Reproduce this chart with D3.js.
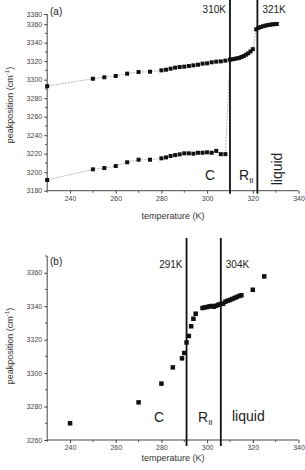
<!DOCTYPE html>
<html>
<head>
<meta charset="utf-8">
<script src="https://cdn.jsdelivr.net/npm/d3@7"></script>
<style>
  body { margin: 0; background: #fff; }
  svg { display: block; font-family: Arial, "Liberation Sans", sans-serif; }
</style>
</head>
<body>
<svg id="chart" width="305" height="470"></svg>
<script>
// panel (a): two peak series vs temperature
var tempsUpperA = [230, 250, 255, 260, 265, 270, 275, 280, 282, 284, 286, 288, 290, 292, 294, 296, 298, 300, 302, 304, 306, 308, 310,
  311, 312, 313, 314, 315, 316, 317, 318, 319, 320, 321.5, 322.5, 323.5, 324.5, 325.5, 326.5, 327.5, 328.5, 329.5, 330.5];
var peaksUpperA = [3293, 3301, 3302.6, 3304, 3306.5, 3308.3, 3308.6, 3310.1, 3310.8, 3311.9, 3313, 3313.7, 3314.1, 3314.8, 3315.5, 3316.2, 3317.3, 3317.7, 3318.8, 3319.5, 3319.8, 3320.6, 3321.7,
  3322, 3322.5, 3323, 3323.5, 3324.5, 3325.5, 3327, 3328.5, 3330.5, 3333, 3354.5, 3356, 3357, 3357.8, 3358.4, 3359, 3359.4, 3359.8, 3360, 3360.2];
var tempsLowerA = [230, 250, 255, 260, 265, 270, 275, 280, 282, 284, 286, 288, 290, 292, 294, 296, 298, 300, 302, 304, 306, 308];
var peaksLowerA = [3191.6, 3203.1, 3204.5, 3206.7, 3210.7, 3213.5, 3213.5, 3215, 3216, 3217.5, 3218.5, 3219.3, 3220.4, 3220.4, 3220, 3221, 3221, 3221.5, 3221, 3223, 3219.5, 3219.5];
var transA = [310, 322];
var transLabelsA = ['310K', '321K'];
var yTicksA = [3180, 3200, 3220, 3240, 3260, 3280, 3300, 3320, 3340, 3360, 3371];
var yTickLabelsA = ['3180', '3200', '3220', '3240', '3260', '3280', '3300', '3320', '3340', '3360', '3380'];

// panel (b)
var tempsB = [240, 270, 280, 285, 289, 290, 291, 292, 293, 294, 295,
  298, 299, 300, 301, 302, 303, 304, 305, 306, 307, 308, 309, 310, 311, 312, 313, 314, 315, 320, 325];
var peaksB = [3270, 3282.5, 3293.7, 3303.4, 3308.8, 3312, 3318.3, 3322.2, 3328, 3332.5, 3335.5,
  3338.9, 3339.3, 3339.5, 3339.9, 3340.1, 3339.7, 3340.3, 3340.9, 3341.3, 3341.5, 3342.7, 3343.3, 3343.7, 3344.3, 3344.9, 3345.5, 3346.1, 3346.5, 3349.8, 3357.8];
var transB = [291, 306];
var transLabelsB = ['291K', '304K'];
var yTicksB = [3260, 3280, 3300, 3320, 3340, 3360];

var xTicks = [240, 260, 280, 300, 320, 340];
var xMinor = [230, 250, 270, 290, 310, 330];

var svg = d3.select('#chart');

function drawPanel(p) {
  var g = svg.append('g');
  var x = d3.scaleLinear().domain([230, 340]).range([47.2, 298.5]);
  var y = d3.scaleLinear().domain(p.yDomain).range(p.yRange);

  // minor ticks
  g.selectAll('.xminor').data(xMinor).enter().append('line')
    .attr('x1', x).attr('x2', x)
    .attr('y1', p.yRange[0]).attr('y2', p.yRange[0] + 2)
    .attr('stroke', '#333').attr('stroke-width', 0.8);
  g.selectAll('.yminor').data(p.yMinor).enter().append('line')
    .attr('x1', 47.2).attr('x2', 45)
    .attr('y1', y).attr('y2', y)
    .attr('stroke', '#333').attr('stroke-width', 0.8);

  // axes
  var xAxis = d3.axisBottom(x).tickValues(xTicks).tickSize(3).tickPadding(2);
  var gx = g.append('g').attr('transform', 'translate(0,' + p.yRange[0] + ')').call(xAxis);
  var yAxis = d3.axisLeft(y).tickValues(p.yTicks).tickSize(3).tickPadding(2)
    .tickFormat(function(d, i) { return p.yLabels ? p.yLabels[i] : d; });
  var gy = g.append('g').attr('transform', 'translate(47.2,0)').call(yAxis);
  [gx, gy].forEach(function(a) {
    a.select('.domain').attr('stroke', '#333').attr('stroke-width', 0.9);
    a.selectAll('.tick line').attr('stroke', '#333').attr('stroke-width', 0.9);
    a.selectAll('.tick text').attr('font-size', 7).attr('fill', '#444').attr('font-family', 'Arial, Liberation Sans, sans-serif');
  });
  // flat ends on the axes (no outer ticks)
  gx.select('.domain').attr('d', 'M' + x.range()[0] + ',0H' + x.range()[1]);
  gy.select('.domain').attr('d', 'M0,' + p.yRange[0] + 'V' + p.yRange[1]);

  // connecting lines
  var line = d3.line().x(function(d) { return x(d[0]); }).y(function(d) { return y(d[1]); });
  p.series.forEach(function(s) {
    if (!s.line) return;
    g.append('path').datum(s.line)
      .attr('d', line)
      .attr('fill', 'none')
      .attr('stroke', '#9a9a9a')
      .attr('stroke-width', 0.7)
      .attr('stroke-dasharray', '2,1');
  });

  // markers
  p.series.forEach(function(s) {
    g.selectAll(null).data(s.pts).enter().append('rect')
      .attr('x', function(d) { return x(d[0]) - p.ms / 2; })
      .attr('y', function(d) { return y(d[1]) - p.ms / 2; })
      .attr('width', p.ms).attr('height', p.ms)
      .attr('fill', '#111');
  });

  // transition lines
  g.selectAll('.trans').data(p.trans).enter().append('line')
    .attr('x1', x).attr('x2', x)
    .attr('y1', p.lineTop).attr('y2', p.yRange[0] + p.lineBelow)
    .attr('stroke', '#111').attr('stroke-width', 1.8);
  g.selectAll('.translabel').data(p.trans).enter().append('text')
    .attr('x', function(d, i) { return i === 0 ? x(d) - 4 : x(d) + 5; })
    .attr('y', p.transLabelY)
    .attr('text-anchor', function(d, i) { return i === 0 ? 'end' : 'start'; })
    .attr('font-size', 10).attr('fill', '#222')
    .text(function(d, i) { return p.transLabels[i]; });

  // panel letter
  g.append('text').attr('x', 50).attr('y', p.letterY)
    .attr('font-size', 10).attr('fill', '#222').text(p.letter);

  // phase labels
  g.append('text').attr('x', p.cPos[0]).attr('y', p.cPos[1])
    .attr('font-size', 14).attr('fill', '#222').text('C');
  var r = g.append('text').attr('x', p.rPos[0]).attr('y', p.rPos[1])
    .attr('font-size', 14).attr('fill', '#222').text('R');
  r.append('tspan').attr('font-size', 8).attr('dy', 3).text('II');
  var liq = g.append('text').attr('font-size', 14).attr('fill', '#222').text('liquid');
  if (p.liquidRot) {
    liq.attr('transform', 'translate(' + p.liqPos[0] + ',' + p.liqPos[1] + ') rotate(-90)')
      .attr('text-anchor', 'middle');
  } else {
    liq.attr('x', p.liqPos[0]).attr('y', p.liqPos[1]);
  }

  // axis titles
  g.append('text').attr('x', 173).attr('y', p.xTitleY)
    .attr('text-anchor', 'middle').attr('font-size', 9).attr('fill', '#333')
    .text('temperature (K)');
  var yt = g.append('text')
    .attr('transform', 'translate(13,' + p.yTitleY + ') rotate(-90)')
    .attr('text-anchor', 'middle').attr('font-size', 9).attr('fill', '#333');
  yt.append('tspan').text('peakposition (cm');
  yt.append('tspan').attr('font-size', 6).attr('dy', -4).text('-1');
  yt.append('tspan').attr('dy', 4).text(')');
}

function zip(a, b) { return a.map(function(v, i) { return [v, b[i]]; }); }

var upperA = zip(tempsUpperA, peaksUpperA);
var lowerA = zip(tempsLowerA, peaksLowerA);

drawPanel({
  yDomain: [3180, 3371], yRange: [190.7, 14],
  yTicks: yTicksA, yLabels: yTickLabelsA,
  yMinor: [3190, 3210, 3230, 3250, 3270, 3290, 3310, 3330, 3350],
  series: [
    { pts: upperA, line: upperA },
    // lower branch joins the upper one at 310 K
    { pts: lowerA, line: lowerA.concat([[310, 3321.7]]) }
  ],
  ms: 4,
  trans: transA, transLabels: transLabelsA,
  lineTop: 0, lineBelow: 3, transLabelY: 13,
  letter: '(a)', letterY: 15,
  cPos: [205, 180], rPos: [239, 180], liqPos: [282, 169], liquidRot: true,
  xTitleY: 219, yTitleY: 105
});

drawPanel({
  yDomain: [3260, 3370], yRange: [440, 256],
  yTicks: yTicksB,
  yMinor: [3270, 3290, 3310, 3330, 3350, 3370],
  series: [{ pts: zip(tempsB, peaksB) }],
  ms: 4.5,
  trans: transB, transLabels: transLabelsB,
  lineTop: 238, lineBelow: 6, transLabelY: 268,
  letter: '(b)', letterY: 265,
  cPos: [154, 422], rPos: [198, 422], liqPos: [232, 421], liquidRot: false,
  xTitleY: 461, yTitleY: 346
});
</script>
</body>
</html>
